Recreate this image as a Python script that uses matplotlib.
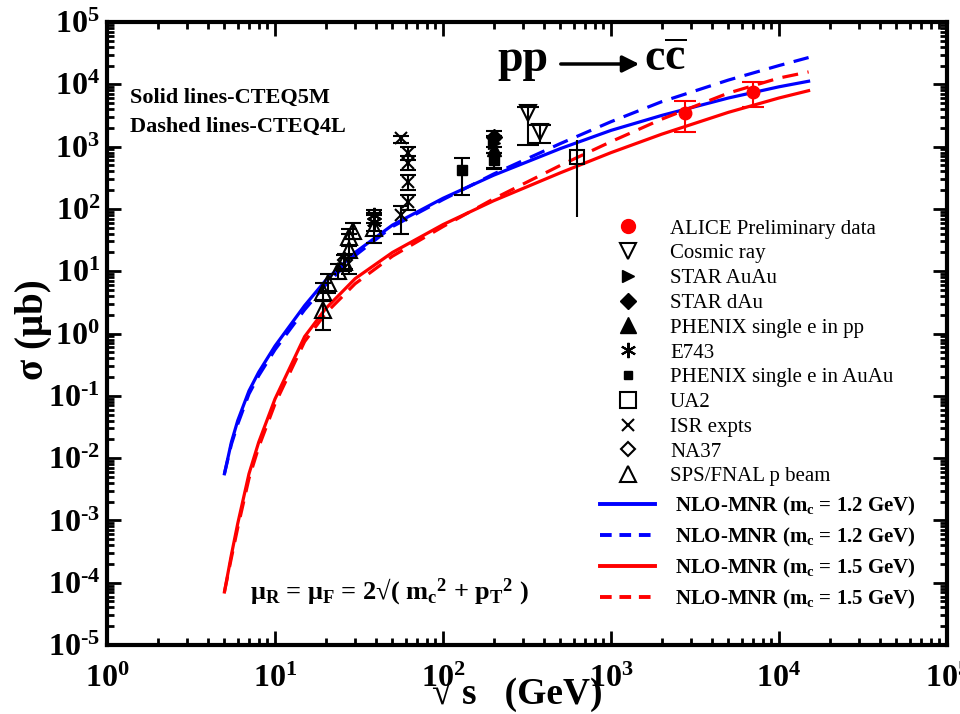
import numpy as np
import matplotlib.pyplot as plt
from matplotlib.lines import Line2D
from matplotlib.ticker import LogLocator, FuncFormatter, NullFormatter

plt.rcParams['font.family'] = ['Liberation Serif', 'DejaVu Serif']
plt.rcParams['mathtext.fontset'] = 'custom'
plt.rcParams['mathtext.rm'] = 'Liberation Serif:bold'
plt.rcParams['mathtext.it'] = 'Liberation Serif:italic:bold'
plt.rcParams['mathtext.bf'] = 'Liberation Serif:bold'

# NLO-MNR curves, sigma (micro-barn) vs sqrt(s) (GeV)
sqrt_s = [5, 5.5, 6, 7, 8, 10, 15, 20, 30, 50, 100, 200, 500, 1000, 2000, 5000, 10000, 15000]
mc12_cteq5m = [5.6e-3, 1.8e-2, 4.0e-2, 0.12, 0.24, 0.63, 2.8, 7.1, 20, 55, 148, 347, 930, 1820, 3160, 6030, 9120, 11200]
mc12_cteq4l = [5.6e-3, 1.66e-2, 3.5e-2, 0.107, 0.21, 0.55, 2.4, 6.0, 17.8, 52, 141, 363, 1120, 2510, 5250, 11700, 20000, 26900]
mc15_cteq5m = [7.1e-5, 2.8e-4, 8.9e-4, 5.6e-3, 1.8e-2, 8.9e-2, 0.89, 2.5, 7.6, 20, 56, 135, 380, 800, 1580, 3550, 6030, 7900]
mc15_cteq4l = [7.1e-5, 2.5e-4, 7.6e-4, 4.7e-3, 1.5e-2, 7.4e-2, 0.74, 2.1, 6.3, 17.4, 52, 145, 500, 1200, 2750, 7240, 12600, 15800]

# measurements: x, y, lower, upper
alice_x = [2760, 7000]
alice_y = [3500, 7500]
alice_lo = [1700, 4400]
alice_hi = [5400, 11000]

cosmic_x = [320, 378]
cosmic_y = [3500, 1700]
cosmic_lo = [1070, 1150]
cosmic_hi = [4400, 2250]

star_auau_x = [200]
star_auau_y = [1130]
star_auau_lo = [800]
star_auau_hi = [1450]

star_dau_x = [200]
star_dau_y = [1400]
star_dau_lo = [1000]
star_dau_hi = [1800]

phenix_pp_x = [200]
phenix_pp_y = [920]
phenix_pp_lo = [450]
phenix_pp_hi = [1500]

e743_x = [38.8, 38.8]
e743_y = [80, 62]
e743_lo = [60, 45]
e743_hi = [95, 80]

phenix_auau_x = [130, 200]
phenix_auau_y = [420, 620]
phenix_auau_lo = [166, 440]
phenix_auau_hi = [660, 800]

ua2_x = [630]
ua2_y = [670]
ua2_lo = [74]
ua2_hi = [1260]

isr_x = [56, 62, 62, 62, 62, 56]
isr_y = [1350, 800, 550, 270, 130, 80]
isr_lo = [1150, 600, 420, 200, 95, 40]
isr_hi = [1500, 1000, 700, 350, 170, 110]

na37_x = [26]
na37_y = [15]
na37_lo = [11]
na37_hi = [19]

sps_x = [19.4, 19.4, 20.6, 23.8, 25.6, 27.4, 27.4, 29.1, 38.8]
sps_y = [2.4, 4.7, 6.5, 10, 14, 22, 35, 45, 50]
sps_lo = [1.15, 3.3, 4.5, 7.5, 10, 9, 25, 33, 28]
sps_hi = [3.3, 6.5, 9, 13, 18, 40, 48, 60, 85]

fig = plt.figure(figsize=(9.6, 7.14), dpi=100)
ax = fig.add_axes([107 / 960, 1 - 645 / 714, 840 / 960, 623 / 714])

ax.plot(sqrt_s, mc12_cteq5m, color='#0000ff', lw=2.3)
ax.plot(sqrt_s, mc12_cteq4l, color='#0000ff', lw=2.3, ls=(0, (5, 3)))
ax.plot(sqrt_s, mc15_cteq5m, color='#ff0000', lw=2.3)
ax.plot(sqrt_s, mc15_cteq4l, color='#ff0000', lw=2.3, ls=(0, (5, 3)))


def points(x, y, lo, hi, color='black', capsize=6, **kw):
    y = np.array(y, dtype=float)
    err = [y - np.array(lo), np.array(hi) - y]
    ax.errorbar(x, y, yerr=err, color=color, ecolor=color, ls='none',
                elinewidth=1.5, capsize=capsize, capthick=1.5, **kw)


points(sps_x, sps_y, sps_lo, sps_hi, marker='^', ms=11, mfc='none', mew=1.5)
points(na37_x, na37_y, na37_lo, na37_hi, marker='D', ms=7, mfc='none', mew=1.5)
points(e743_x, e743_y, e743_lo, e743_hi, marker=(6, 2, 0), ms=11, mew=1.5)
points(isr_x, isr_y, isr_lo, isr_hi, marker='x', ms=9, mew=1.5)
points(ua2_x, ua2_y, ua2_lo, ua2_hi, marker='s', ms=10, mfc='none', mew=1.5, capsize=0)
points(phenix_auau_x, phenix_auau_y, phenix_auau_lo, phenix_auau_hi, marker='s', ms=7)
points(phenix_pp_x, phenix_pp_y, phenix_pp_lo, phenix_pp_hi, marker='^', ms=10)
points(star_auau_x, star_auau_y, star_auau_lo, star_auau_hi, marker='>', ms=8)
points(star_dau_x, star_dau_y, star_dau_lo, star_dau_hi, marker='D', ms=8)
points(cosmic_x, cosmic_y, cosmic_lo, cosmic_hi, marker='v', ms=12, mfc='none', mew=1.5, capsize=8)
points(alice_x, alice_y, alice_lo, alice_hi, color='#ff0000', marker='o', ms=9, capsize=8)

ax.set_xscale('log')
ax.set_yscale('log')
ax.set_xlim(1, 1e5)
ax.set_ylim(1e-5, 1e5)


def decade(v, pos):
    n = int(round(np.log10(v)))
    exp = r'\text{-}%d' % -n if n < 0 else '%d' % n
    return r'$\mathbf{10^{%s}}$' % exp


fmt = FuncFormatter(decade)
for axis in (ax.xaxis, ax.yaxis):
    axis.set_major_locator(LogLocator(base=10, numticks=30))
    axis.set_minor_locator(LogLocator(base=10, subs=np.arange(2, 10), numticks=30))
    axis.set_major_formatter(fmt)
    axis.set_minor_formatter(NullFormatter())
ax.tick_params(which='both', direction='in', top=True, right=True, width=2, labelsize=23)
ax.tick_params(which='major', length=10)
ax.tick_params(which='minor', length=5)
ax.tick_params(axis='x', pad=14)
ax.tick_params(axis='y', pad=5)
for s in ax.spines.values():
    s.set_linewidth(3)

# legends
fs = 15
marker_handles = [
    Line2D([], [], color='#ff0000', marker='o', ls='none', ms=10),
    Line2D([], [], color='black', marker='v', ls='none', ms=11, mfc='none', mew=1.5),
    Line2D([], [], color='black', marker='>', ls='none', ms=8),
    Line2D([], [], color='black', marker='D', ls='none', ms=8),
    Line2D([], [], color='black', marker='^', ls='none', ms=11),
    Line2D([], [], color='black', marker=(6, 2, 0), ls='none', ms=11, mew=1.5),
    Line2D([], [], color='black', marker='s', ls='none', ms=6),
    Line2D([], [], color='black', marker='s', ls='none', ms=11, mfc='none', mew=1.5),
    Line2D([], [], color='black', marker='x', ls='none', ms=9, mew=1.5),
    Line2D([], [], color='black', marker='D', ls='none', ms=7, mfc='none', mew=1.5),
    Line2D([], [], color='black', marker='^', ls='none', ms=12, mfc='none', mew=1.5),
]
marker_labels = ['ALICE Preliminary data', 'Cosmic ray', 'STAR AuAu', 'STAR dAu',
                 'PHENIX single e in pp', 'E743', 'PHENIX single e in AuAu', 'UA2',
                 'ISR expts', 'NA37', 'SPS/FNAL p beam']
leg1 = fig.legend(marker_handles, marker_labels, loc='upper left',
                  bbox_to_anchor=(600 / 960, 1 - 219 / 714), frameon=False,
                  fontsize=fs, handlelength=2.64, handletextpad=0.72,
                  labelspacing=0.25, borderpad=0, borderaxespad=0)

line_handles = [
    Line2D([], [], color='#0000ff', lw=2.8),
    Line2D([], [], color='#0000ff', lw=2.8, ls=(0, (3, 2))),
    Line2D([], [], color='#ff0000', lw=2.8),
    Line2D([], [], color='#ff0000', lw=2.8, ls=(0, (3, 2))),
]
line_labels = [r'NLO-MNR (m$_\mathrm{c}$ = 1.2 GeV)', r'NLO-MNR (m$_\mathrm{c}$ = 1.2 GeV)',
               r'NLO-MNR (m$_\mathrm{c}$ = 1.5 GeV)', r'NLO-MNR (m$_\mathrm{c}$ = 1.5 GeV)']
leg2 = fig.legend(line_handles, line_labels, loc='upper left',
                  bbox_to_anchor=(600 / 960, 1 - 495 / 714), frameon=False,
                  prop={'size': fs, 'weight': 'bold'}, handlelength=2.64,
                  handletextpad=0.96, labelspacing=0.38, borderpad=0, borderaxespad=0)

# annotations
fig.text(130 / 960, 1 - 98 / 714, 'Solid lines-CTEQ5M', fontsize=16, fontweight='bold', va='center')
fig.text(130 / 960, 1 - 127 / 714, 'Dashed lines-CTEQ4L', fontsize=16, fontweight='bold', va='center')
fig.text(497 / 960, 1 - 71 / 714, 'pp', fontsize=33, fontweight='bold', va='baseline')
ax.annotate('', xy=(642 / 960, 1 - 64 / 714), xytext=(558 / 960, 1 - 64 / 714),
            xycoords='figure fraction', textcoords='figure fraction',
            arrowprops=dict(arrowstyle='-|>', lw=2.5, color='black', mutation_scale=25))
fig.text(644 / 960, 1 - 71 / 714, r'c$\overline{\mathrm{c}}$', fontsize=33, fontweight='bold', va='baseline')
fig.text(250 / 960, 1 - 592 / 714,
         r'μ$_\mathrm{R}$ = μ$_\mathrm{F}$ = 2√( m$_\mathrm{c}$$^\mathrm{2}$ + p$_\mathrm{T}$$^\mathrm{2}$ )',
         fontsize=19, fontweight='bold', va='center')

fig.text(33 / 960, 1 - 330 / 714, 'σ (μb)', fontsize=28, fontweight='bold',
         rotation=90, ha='center', va='center')
fig.text(517 / 960, 1 - 694 / 714, '√ s   (GeV)', fontsize=27, fontweight='bold',
         ha='center', va='center')

fig.savefig('out.png', dpi=100)
